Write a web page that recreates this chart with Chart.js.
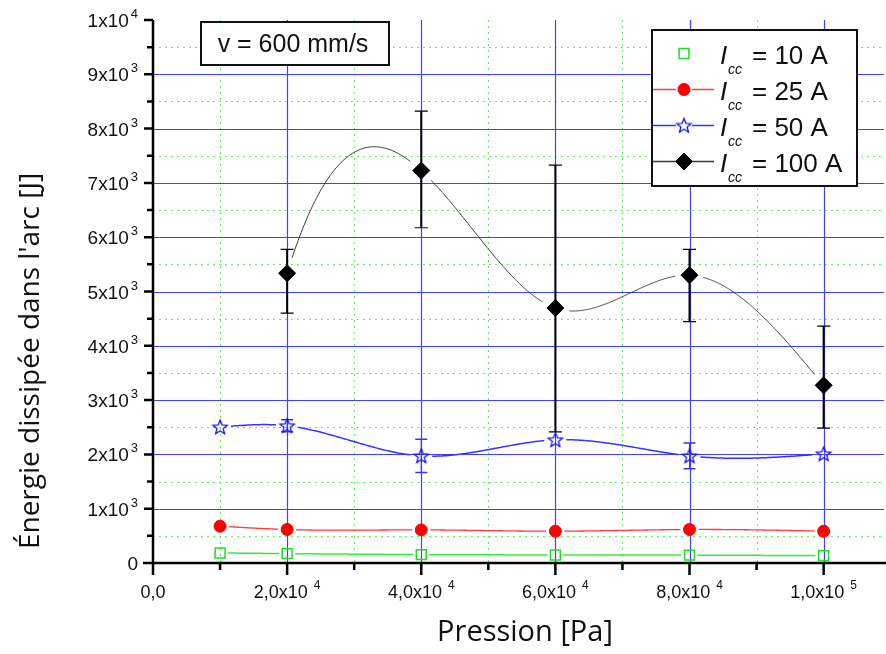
<!DOCTYPE html>
<html><head><meta charset="utf-8">
<script src="https://cdn.jsdelivr.net/npm/chart.js@4.4.0/dist/chart.umd.min.js"></script>
<style>html,body{margin:0;padding:0;background:#fff;}#wrap{width:886px;height:654px;position:relative;}</style>
</head><body><div id="wrap"><canvas id="c" width="886" height="654"></canvas></div>
<script>
// ---------- data ----------
const pressure = [10000, 20000, 40000, 60000, 80000, 100000];
const energy10A = [185, 173, 155, 148, 145, 135];
const energy25A = [678, 617, 610, 586, 617, 586];
const energy50A = [2503, 2527, 1972, 2268, 1972, 2009];
const err50A = [0, 110, 305, 0, 237, 0];
const energy100A = [null, 5336, 7227, 4695, 5300, 3272];
const err100Plus = [null, 438, 1096, 2632, 474, 1090];
const err100Minus = [null, 733, 1053, 2279, 856, 788];
const seriesLabels = ['10 A', '25 A', '50 A', '100 A'];
const xTickValues = [0, 20000, 40000, 60000, 80000, 100000];
const xTickLabels = [['0,0', ''], ['2,0x10', '4'], ['4,0x10', '4'], ['6,0x10', '4'], ['8,0x10', '4'], ['1,0x10', '5']];
const yTickValues = [0, 1000, 2000, 3000, 4000, 5000, 6000, 7000, 8000, 9000, 10000];
const yTickLabels = [['0', ''], ['1x10', '3'], ['2x10', '3'], ['3x10', '3'], ['4x10', '3'], ['5x10', '3'], ['6x10', '3'], ['7x10', '3'], ['8x10', '3'], ['9x10', '3'], ['1x10', '4']];
const annotationText = 'v = 600 mm/s';
const xTitle = 'Pression [Pa]';
const yTitle = "Énergie dissipée dans l'arc [J]";

// ---------- styles ----------
function makeStar() {
  const c = document.createElement('canvas'); c.width = 18; c.height = 18;
  const g = c.getContext('2d');
  g.beginPath();
  for (let k = 0; k < 10; k++) {
    const r = k % 2 === 0 ? 7.5 : 3.3;
    const a = -Math.PI / 2 + k * Math.PI / 5;
    const px = 9 + r * Math.cos(a), py = 9.5 + r * Math.sin(a);
    k === 0 ? g.moveTo(px, py) : g.lineTo(px, py);
  }
  g.closePath(); g.strokeStyle = '#1414f0'; g.lineWidth = 1.3; g.stroke();
  return c;
}
const starImg = makeStar();
const curveStyles = [
  { color: '#33ee33', width: 1.5, gap: 8, legendLine: false, start: 'natural', end: 'natural' },
  { color: '#ff3b3b', width: 1.3, gap: 9, legendLine: true, start: 'natural', end: 'natural' },
  { color: '#3434ff', width: 1.5, gap: 11, legendLine: true, start: 'natural', end: 'natural' },
  { color: '#3a3a3a', width: 1, gap: 14, legendLine: true, start: 'nak', end: 'natural' }
];
const pts = arr => pressure.map((x, i) => ({ x: x, y: arr[i] })).filter(p => p.y !== null);

// ---------- cubic spline connector ----------
function splineM(xs, ys, start, end) {
  const n = xs.length, h = [], s = [];
  for (let i = 0; i < n - 1; i++) { h[i] = xs[i + 1] - xs[i]; s[i] = (ys[i + 1] - ys[i]) / h[i]; }
  const A = Array.from({ length: n }, () => new Array(n + 1).fill(0));
  if (start === 'nak' && n >= 4) { A[0][0] = h[1]; A[0][1] = -(h[0] + h[1]); A[0][2] = h[0]; }
  else A[0][0] = 1;
  if (end === 'nak' && n >= 4) { A[n - 1][n - 3] = h[n - 2]; A[n - 1][n - 2] = -(h[n - 3] + h[n - 2]); A[n - 1][n - 1] = h[n - 3]; }
  else A[n - 1][n - 1] = 1;
  for (let i = 1; i < n - 1; i++) {
    A[i][i - 1] = h[i - 1]; A[i][i] = 2 * (h[i - 1] + h[i]); A[i][i + 1] = h[i]; A[i][n] = 6 * (s[i] - s[i - 1]);
  }
  for (let c = 0; c < n; c++) {
    let p = c; for (let r = c + 1; r < n; r++) if (Math.abs(A[r][c]) > Math.abs(A[p][c])) p = r;
    [A[c], A[p]] = [A[p], A[c]];
    for (let r = 0; r < n; r++) if (r !== c) {
      const f = A[r][c] / A[c][c];
      for (let k = c; k <= n; k++) A[r][k] -= f * A[c][k];
    }
  }
  return A.map((row, i) => row[n] / row[i]);
}

const FONT = '"Liberation Sans", Arial, sans-serif';
const plotPlugin = {
  id: 'plotPlugin',
  beforeDatasetsDraw(chart) {
    const ctx = chart.ctx, xs = chart.scales.x, ys = chart.scales.y, ca = chart.chartArea;
    ctx.save();
    // minor grid
    ctx.strokeStyle = '#5cf05c'; ctx.lineWidth = 1; ctx.setLineDash([2, 4]);
    for (let v = 500; v < 10000; v += 1000) {
      const y = Math.round(ys.getPixelForValue(v)) + 0.5;
      ctx.beginPath(); ctx.moveTo(ca.left, y); ctx.lineTo(ca.right, y); ctx.stroke();
    }
    for (let v = 10000; v < 110000; v += 20000) {
      const x = Math.round(xs.getPixelForValue(v)) + 0.5;
      ctx.beginPath(); ctx.moveTo(x, ca.top); ctx.lineTo(x, ca.bottom); ctx.stroke();
    }
    ctx.setLineDash([]);
    // major grid
    ctx.strokeStyle = '#4040ff'; ctx.lineWidth = 1.2;
    for (let v = 1000; v < 10000; v += 1000) {
      const y = Math.round(ys.getPixelForValue(v)) + 0.5;
      ctx.beginPath(); ctx.moveTo(ca.left, y); ctx.lineTo(ca.right, y); ctx.stroke();
    }
    for (let v = 20000; v <= 100000; v += 20000) {
      const x = Math.round(xs.getPixelForValue(v)) + 0.5;
      ctx.beginPath(); ctx.moveTo(x, ca.top); ctx.lineTo(x, ca.bottom); ctx.stroke();
    }
    // spline connectors
    chart.data.datasets.forEach((ds, di) => {
      const meta = chart.getDatasetMeta(di);
      const px = meta.data.map(e => e.x), py = meta.data.map(e => e.y);
      const st = curveStyles[di], M = splineM(px, py, st.start, st.end);
      ctx.strokeStyle = st.color; ctx.lineWidth = st.width; ctx.beginPath();
      let pen = false;
      for (let i = 0; i < px.length - 1; i++) {
        const h = px[i + 1] - px[i];
        for (let x = px[i]; x <= px[i + 1]; x += 1) {
          const a = (px[i + 1] - x) / h, b = (x - px[i]) / h;
          const y = a * py[i] + b * py[i + 1] + ((a * a * a - a) * M[i] + (b * b * b - b) * M[i + 1]) * h * h / 6;
          let near = false;
          for (let k = 0; k < px.length; k++) if (Math.hypot(x - px[k], y - py[k]) < st.gap) { near = true; break; }
          if (near) { pen = false; continue; }
          if (!pen) { ctx.moveTo(x, y); pen = true; } else ctx.lineTo(x, y);
        }
      }
      ctx.stroke();
    });
    // error bars
    const drawErr = (x, vTop, vBot, color, lw, capW, capLw) => {
      const xp = xs.getPixelForValue(x), yt = ys.getPixelForValue(vTop), yb = ys.getPixelForValue(vBot);
      ctx.strokeStyle = color; ctx.lineWidth = lw;
      ctx.beginPath(); ctx.moveTo(xp, yt); ctx.lineTo(xp, yb); ctx.stroke();
      ctx.lineWidth = capLw; ctx.beginPath();
      ctx.moveTo(xp - capW, yt); ctx.lineTo(xp + capW, yt);
      ctx.moveTo(xp - capW, yb); ctx.lineTo(xp + capW, yb); ctx.stroke();
    };
    pressure.forEach((x, i) => {
      if (err50A[i] > 0) drawErr(x, energy50A[i] + err50A[i], energy50A[i] - err50A[i], '#3434ff', 1, 6, 1.5);
      if (energy100A[i] !== null) drawErr(x, energy100A[i] + err100Plus[i], energy100A[i] - err100Minus[i], '#000', 2, 6.5, 1.2);
    });
    ctx.restore();
  },
  afterDatasetsDraw(chart) {
    const ctx = chart.ctx, xs = chart.scales.x, ys = chart.scales.y, ca = chart.chartArea;
    ctx.save();
    ctx.strokeStyle = '#000'; ctx.lineWidth = 2.5;
    const x0 = xs.getPixelForValue(0), y0 = ys.getPixelForValue(0);
    ctx.beginPath();
    ctx.moveTo(x0 - 10, y0); ctx.lineTo(ca.right + 4, y0);
    ctx.moveTo(x0, ys.getPixelForValue(10000)); ctx.lineTo(x0, y0 + 12);
    for (let v = 500; v <= 10000; v += 500) {
      const y = ys.getPixelForValue(v); ctx.moveTo(x0, y); ctx.lineTo(x0 - (v % 1000 === 0 ? 9 : 6), y);
    }
    for (let v = 10000; v <= 100000; v += 10000) {
      const x = xs.getPixelForValue(v); ctx.moveTo(x, y0); ctx.lineTo(x, y0 + (v % 20000 === 0 ? 12 : 7));
    }
    ctx.stroke();
    // tick labels with superscript exponents
    ctx.fillStyle = '#111';
    const drawSup = (base, sup, x, yb, align, fb, fs, raise, gap) => {
      ctx.font = fb + 'px ' + FONT;
      const wb = ctx.measureText(base).width;
      ctx.font = fs + 'px ' + FONT;
      const wsup = sup ? ctx.measureText(sup).width + gap : 0;
      const tot = wb + wsup;
      const sx = align === 'center' ? x - tot / 2 : x - tot;
      ctx.textAlign = 'left'; ctx.textBaseline = 'alphabetic';
      ctx.font = fb + 'px ' + FONT; ctx.fillText(base, sx, yb);
      if (sup) { ctx.font = fs + 'px ' + FONT; ctx.fillText(sup, sx + wb + gap, yb - raise); }
    };
    yTickValues.forEach((v, i) => {
      drawSup(yTickLabels[i][0], yTickLabels[i][1], 138, ys.getPixelForValue(v) + 7, 'right', 19, 13, 9, 2);
    });
    xTickValues.forEach((v, i) => {
      drawSup(xTickLabels[i][0], xTickLabels[i][1], xs.getPixelForValue(v), 598, 'center', 18, 12, 9, 6);
    });
    // axis titles
    ctx.fillStyle = '#111'; ctx.textAlign = 'center'; ctx.textBaseline = 'middle';
    ctx.font = '29px "Open Sans", sans-serif';
    ctx.fillText(xTitle, 525, 633);
    ctx.font = '28px "Open Sans", sans-serif';
    ctx.save(); ctx.translate(31, 361); ctx.rotate(-Math.PI / 2); ctx.fillText(yTitle, 0, 0); ctx.restore();
    ctx.restore();
  },
  afterDraw(chart) {
    const ctx = chart.ctx;
    ctx.save();
    // annotation box
    ctx.fillStyle = '#fff'; ctx.fillRect(201, 22, 188, 43);
    ctx.strokeStyle = '#111'; ctx.lineWidth = 2; ctx.strokeRect(201, 22, 188, 43);
    ctx.fillStyle = '#111'; ctx.font = '25px ' + FONT;
    ctx.textAlign = 'center'; ctx.textBaseline = 'middle'; ctx.fillText(annotationText, 293, 45);
    // legend
    ctx.fillStyle = '#fff'; ctx.fillRect(652, 30, 205, 156);
    ctx.strokeStyle = '#111'; ctx.lineWidth = 2; ctx.strokeRect(652, 30, 205, 156);
    chart.data.datasets.forEach((ds, i) => {
      const y = 53.5 + 36 * i, mx = 684, st = curveStyles[i];
      if (st.legendLine) {
        ctx.strokeStyle = st.color; ctx.lineWidth = 1.3; ctx.beginPath();
        ctx.moveTo(653, y); ctx.lineTo(mx - 8, y); ctx.moveTo(mx + 8, y); ctx.lineTo(714, y); ctx.stroke();
      }
      ctx.fillStyle = ds.backgroundColor; ctx.strokeStyle = ds.borderColor; ctx.lineWidth = ds.borderWidth;
      Chart.helpers.drawPoint(ctx, { pointStyle: ds.pointStyle, radius: ds.pointRadius, borderWidth: ds.borderWidth, rotation: 0 }, mx, y);
      ctx.fillStyle = '#111'; ctx.textAlign = 'left'; ctx.textBaseline = 'alphabetic';
      ctx.font = 'italic 26px ' + FONT; ctx.fillText('I', 720, y + 10);
      ctx.font = 'italic 14px ' + FONT; ctx.fillText('cc', 728, y + 20);
      ctx.font = '26px ' + FONT; ctx.fillText('= ' + seriesLabels[i], 752, y + 10);
    });
    ctx.restore();
  }
};

new Chart(document.getElementById('c'), {
  type: 'scatter',
  data: {
    datasets: [
      { label: 'Icc = 10 A', data: pts(energy10A), pointStyle: 'rect', pointRadius: 7, borderColor: '#22dd22', backgroundColor: 'rgba(0,0,0,0)', borderWidth: 1.5, showLine: false },
      { label: 'Icc = 25 A', data: pts(energy25A), pointStyle: 'circle', pointRadius: 6, borderColor: '#ff0000', backgroundColor: '#ff0000', borderWidth: 1, showLine: false },
      { label: 'Icc = 50 A', data: pts(energy50A), pointStyle: starImg, pointRadius: 8, borderColor: '#1414f0', backgroundColor: 'rgba(0,0,0,0)', borderWidth: 1, showLine: false },
      { label: 'Icc = 100 A', data: pts(energy100A), pointStyle: 'rectRot', pointRadius: 8.5, borderColor: '#000', backgroundColor: '#000', borderWidth: 1, showLine: false }
    ]
  },
  options: {
    responsive: false, animation: false, devicePixelRatio: 1,
    layout: { autoPadding: false, padding: { left: 153, top: 20, right: 2, bottom: 91 } },
    scales: {
      x: { type: 'linear', min: 0, max: 109000, display: false },
      y: { type: 'linear', min: 0, max: 10000, display: false }
    },
    plugins: { legend: { display: false }, tooltip: { enabled: false } }
  },
  plugins: [plotPlugin]
});
</script></body></html>
